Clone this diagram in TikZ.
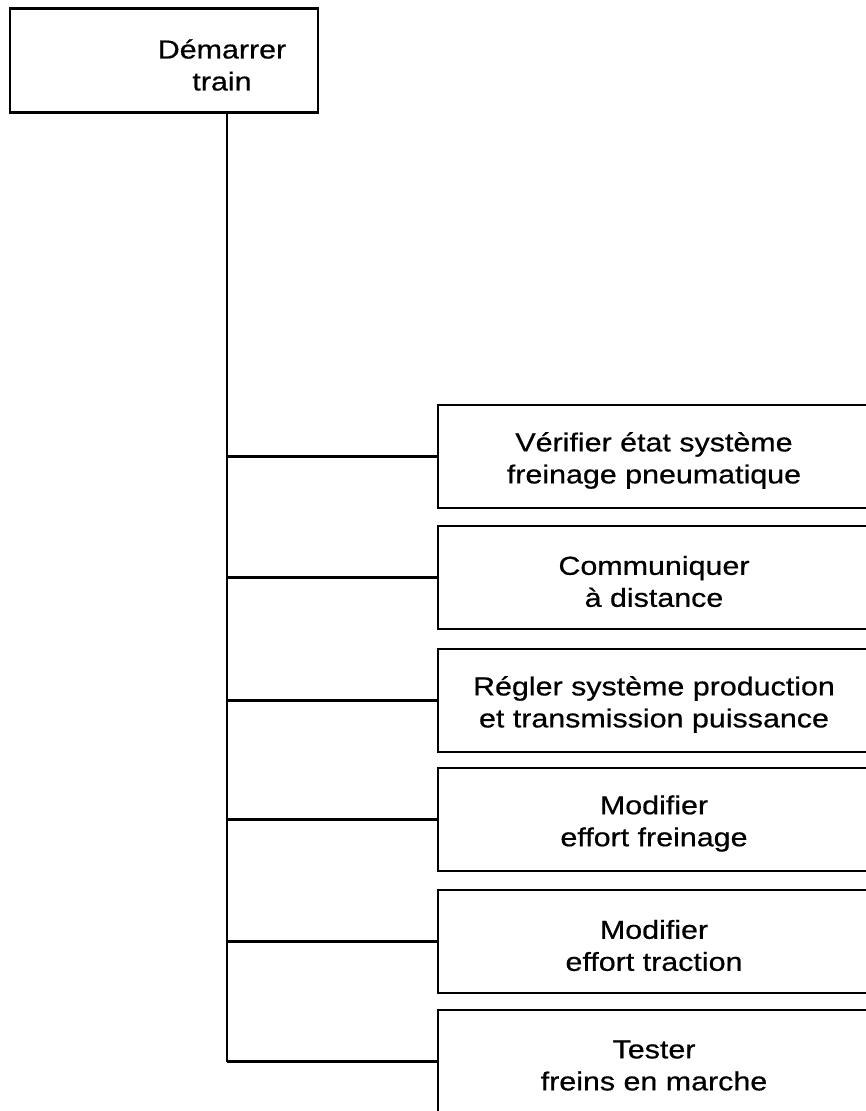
\documentclass[tikz,border=0pt]{standalone}
\usepackage{fontspec}
\setmainfont{Liberation Sans}[FakeStretch=1.17,FakeBold=0.6]
\begin{document}
\begin{tikzpicture}[x=1pt,y=-1pt,
  box/.style={draw=black,line width=2.6pt,inner sep=0pt},
  child/.style={box,minimum width=432pt,minimum height=103pt},
  lbl/.style={align=center,font=\fontsize{26}{32}\selectfont,inner sep=0pt},
  wire/.style={draw=black,line width=2.4pt}]
\useasboundingbox (0,0) rectangle (866,1111);
\clip (0,0) rectangle (866,1111);
\fill[white] (0,0) rectangle (866,1111);
\node[box,minimum width=308pt,minimum height=104pt] (root) at (164,60.5) {};
\node[lbl] (roottext) at (222,65) {Démarrer\\train};
\coordinate (trunktop) at (227,113);
\coordinate (trunkbot) at (227,1062);
\node[child] (c1) at (654,456.5) {};
\node[child] (c2) at (654,577.5) {};
\node[child] (c3) at (654,700.5) {};
\node[child] (c4) at (654,819.5) {};
\node[child] (c5) at (654,941.5) {};
\node[child] (c6) at (654,1061.5) {};
\node[lbl] (t1) at ([yshift=-4pt]c1.center) {Vérifier état système\\freinage pneumatique};
\node[lbl] (t2) at ([yshift=-4pt]c2.center) {Communiquer\\à distance};
\node[lbl] (t3) at ([yshift=-4pt]c3.center) {Régler système production\\et transmission puissance};
\node[lbl] (t4) at ([yshift=-4pt]c4.center) {Modifier\\effort freinage};
\node[lbl] (t5) at ([yshift=-4pt]c5.center) {Modifier\\effort traction};
\node[lbl] (t6) at ([yshift=-4pt]c6.center) {Tester\\freins en marche};
\draw[wire] (trunktop) -- (trunkbot);
\foreach \n in {c1,c2,c3,c4,c5,c6}{
  \draw[wire] (trunktop |- \n.west) -- (\n.west);
}
\end{tikzpicture}
\end{document}
